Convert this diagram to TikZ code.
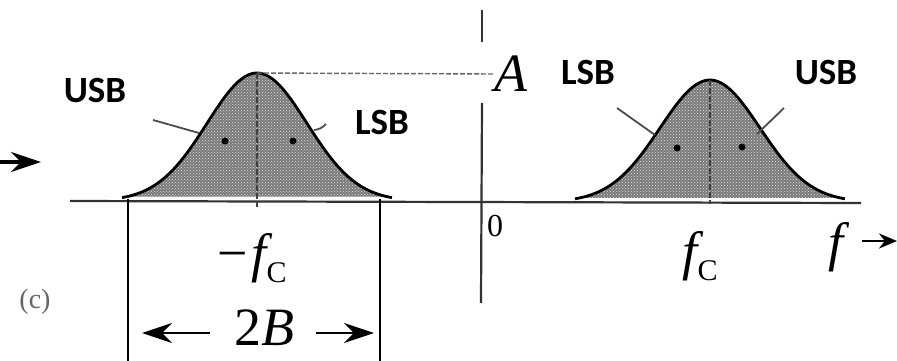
\documentclass[tikz,border=0pt]{standalone}
\usepackage{fontspec}
\setmainfont{Liberation Serif}
\newfontfamily\calib{Carlito}
\usetikzlibrary{arrows.meta,patterns}
\begin{document}
\begin{tikzpicture}[x=1pt,y=-1pt,
  band/.style={font=\calib\bfseries\fontsize{37}{37}\selectfont, inner sep=0pt},
  mathlbl/.style={font=\fontsize{54}{54}\selectfont\itshape, inner sep=0pt},
  axisline/.style={line width=2.2pt, black!80},
  bell/.style={line width=2.8pt, black},
  belltex/.style={pattern=crosshatch dots, pattern color=white!80!gray},
  pointer/.style={line width=1.8pt, black!70},
  dimarrow/.style={line width=2.4pt, -{Stealth[length=30pt,width=20pt]}},
  midline/.style={line width=1.4pt, black!75, dashed, dash pattern=on 6pt off 2pt}]
\useasboundingbox (0,0) rectangle (897,361);
\fill[white] (0,0) rectangle (897,361);
% coordinates
\coordinate (bl) at (70,201);
\coordinate (br) at (861,203);
\coordinate (vtop) at (482,10);
\coordinate (vgap1) at (482,42);
\coordinate (vgap2) at (482,103);
\coordinate (vbot) at (481,303);
% bells
\fill[black!52] plot[domain=-2.6:2.6,samples=80] ({257+50*\x},{201-128*exp(-\x*\x/2)}) -- cycle;
\fill[belltex] plot[domain=-2.6:2.6,samples=80] ({257+50*\x},{201-128*exp(-\x*\x/2)}) -- cycle;
\fill[black!52] plot[domain=-2.6:2.6,samples=80] ({710+50*\x},{202-122*exp(-\x*\x/2)}) -- cycle;
\fill[belltex] plot[domain=-2.6:2.6,samples=80] ({710+50*\x},{202-122*exp(-\x*\x/2)}) -- cycle;
% baseline
\draw[axisline] (bl) -- (br);
\draw[bell] plot[domain=-2.7:2.7,samples=80] ({257+50*\x},{201-128*exp(-\x*\x/2)});
\draw[bell] plot[domain=-2.7:2.7,samples=80] ({710+50*\x},{202-122*exp(-\x*\x/2)});
% peaks and centre lines
\coordinate (pkL) at (257,73);
\coordinate (bsL) at (257,207);
\coordinate (pkR) at (710,80);
\coordinate (bsR) at (710,204);
\draw[midline] (pkL) -- (bsL);
\draw[midline] (pkR) -- (bsR);
% vertical axis
\draw[axisline] (vtop) -- (vgap1);
\draw[axisline] (vgap2) -- (vbot);
% A label and dashed line
\node[mathlbl] (A) at (511,74) {A};
\draw[line width=1.4pt, black!60, dashed, dash pattern=on 5pt off 2pt] (pkL) -- (A.west);
\node[font=\fontsize{32}{32}\selectfont, inner sep=0pt] (zero) at (495,226) {0};
% band labels
\node[band] (usbL) at (95,91) {USB};
\node[band] (lsbL) at (382,122) {LSB};
\node[band] (lsbR) at (588,72) {LSB};
\node[band] (usbR) at (826,73) {USB};
\coordinate (pUL1) at (153,120);
\coordinate (pUL2) at (199,133);
\coordinate (pLL1) at (326,124);
\coordinate (pLL2) at (314,130);
\coordinate (pLR1) at (617,108);
\coordinate (pLR2) at (655,135);
\coordinate (pUR1) at (784,108);
\coordinate (pUR2) at (757,134);
\draw[pointer] (pUL1) -- (pUL2);
\draw[pointer] (pLL1) to[bend left=20] (pLL2);
\draw[pointer] (pLR1) -- (pLR2);
\draw[pointer] (pUR1) -- (pUR2);
\fill[black] (225,141) circle (3.5pt) (293,141) circle (3.5pt) (677,148) circle (3.5pt) (742,147) circle (3.5pt);
% width markers
\coordinate (wl1) at (128,199);
\coordinate (wl2) at (128,361);
\coordinate (wr1) at (380,199);
\coordinate (wr2) at (380,361);
\draw[axisline, black] (wl1) -- (wl2);
\draw[axisline, black] (wr1) -- (wr2);
% labels
\node[mathlbl] (mfc) at (252,258) {\upshape −\hspace{4pt}\itshape f\raisebox{-0.2em}{\upshape\fontsize{30}{30}\selectfont C}};
\node[mathlbl] (fc) at (700,256) {f\raisebox{-0.2em}{\upshape\fontsize{30}{30}\selectfont C}};
\node[mathlbl] (f) at (836,247) {f};
\node[font=\fontsize{54}{54}\selectfont, inner sep=2pt] (twoB) at (264,328) {2\textit{B}};
\coordinate (la) at (142,333);
\coordinate (ra) at (374,333);
\draw[dimarrow] (twoB.west) ++(-22,5) -- (la);
\draw[dimarrow] (twoB.east) ++(20,5) -- (ra);
\node[font=\fontsize{28}{28}\selectfont, text=black!60, inner sep=0pt] (c) at (35,302) {(c)};
% stray arrows
\coordinate (al1) at (0,162);
\coordinate (al2) at (41,162);
\coordinate (ar1) at (862,241);
\coordinate (ar2) at (897,241);
\draw[line width=3.2pt, -{Stealth[length=30pt,width=20pt]}] (al1) -- (al2);
\draw[line width=2.6pt, -{Stealth[length=18pt,width=15pt]}] (ar1) -- (ar2);
\end{tikzpicture}
\end{document}
